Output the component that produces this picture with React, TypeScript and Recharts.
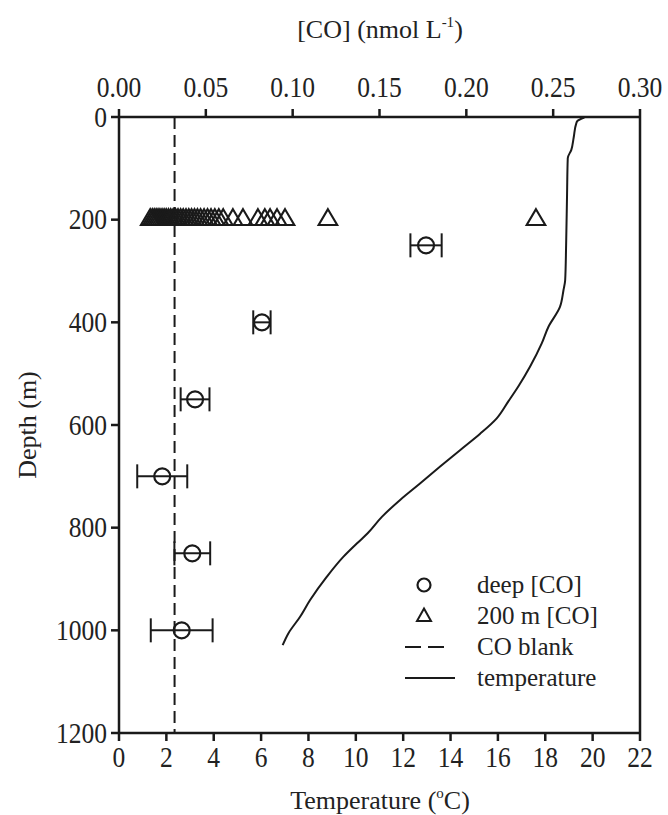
import React from "react";
import {
  ScatterChart,
  Scatter,
  XAxis,
  YAxis,
  ErrorBar,
  ReferenceLine,
  Legend,
} from "recharts";

const coTicks = [0, 0.05, 0.1, 0.15, 0.2, 0.25, 0.3];
const tempTicks = [0, 2, 4, 6, 8, 10, 12, 14, 16, 18, 20, 22];
const depthTicks = [0, 200, 400, 600, 800, 1000, 1200];

const deepDepth = [250, 400, 550, 700, 850, 1000];
const deepCO = [0.1768, 0.0823, 0.0438, 0.0249, 0.0422, 0.0361];
const deepErr = [0.009, 0.005, 0.0083, 0.0144, 0.0103, 0.0178];

const shallowDepth = 200;
const shallowCO = [
  0.018, 0.0192, 0.0203, 0.0214, 0.0225, 0.0236, 0.0248, 0.026, 0.0272,
  0.0285, 0.0298, 0.0312, 0.0326, 0.034, 0.0355, 0.037, 0.0386, 0.0402,
  0.0418, 0.0435, 0.0452, 0.047, 0.049, 0.051, 0.053, 0.0552, 0.0575, 0.06,
  0.0656, 0.0714, 0.08, 0.084, 0.087, 0.091, 0.0956, 0.1203, 0.2401,
];

const coBlank = 0.032;

const tempValues = [
  19.65, 19.35, 19.3, 19.2, 19.1, 18.95, 18.92, 18.88, 18.84, 18.77, 18.62,
  18.13, 17.85, 17.36, 16.86, 16.44, 15.95, 15.25, 14.4, 13.56, 12.71, 11.87,
  11.1, 10.5, 10.04, 9.47, 8.77, 8.07, 7.64, 7.15, 6.91,
];
const tempDepths = [
  1, 8, 14, 40, 64, 80, 150, 250, 318, 337, 370, 409, 441, 486, 525, 554, 587,
  617, 649, 681, 714, 746, 779, 811, 831, 857, 896, 941, 974, 1006, 1029,
];

const deepData = deepDepth.map((d, i) => ({ co: deepCO[i], depth: d, err: deepErr[i] }));
const shallowData = shallowCO.map((c) => ({ co: c, depth: shallowDepth }));
const tempData = tempValues.map((t, i) => ({ t, depth: tempDepths[i] }));

const INK = "#1a1a1a";
const TXT = "#222";
const FONT = "'Liberation Serif', 'Times New Roman', serif";
const TICK_FS = 29;
const TICK_SX = 0.88;

const CircleShape = (props: any) => {
  const { cx, cy } = props;
  if (cx == null || cy == null) return <g />;
  return <circle cx={cx} cy={cy} r={8} fill="none" stroke={INK} strokeWidth={2.2} />;
};

const TriangleShape = (props: any) => {
  const { cx, cy } = props;
  if (cx == null || cy == null) return <g />;
  const d = `M${cx},${cy - 10.5} L${cx + 9.3},${cy + 5.3} L${cx - 9.3},${cy + 5.3} Z`;
  return <path d={d} fill="none" stroke={INK} strokeWidth={2.1} strokeLinejoin="miter" />;
};

const NoShape = () => <g />;

const TickText = ({ x, y, anchor, label }: any) => (
  <text
    transform={`translate(${x},${y}) scale(${TICK_SX},1)`}
    textAnchor={anchor}
    fontFamily={FONT}
    fontSize={TICK_FS}
    fill={TXT}
  >
    {label}
  </text>
);

const TopTick = (props: any) => {
  const { x, y, payload } = props;
  return <TickText x={x} y={y} anchor="middle" label={Number(payload.value).toFixed(2)} />;
};

const BottomTick = (props: any) => {
  const { x, y, payload } = props;
  return <TickText x={x} y={y + 19} anchor="middle" label={String(payload.value)} />;
};

const LeftTick = (props: any) => {
  const { x, y, payload } = props;
  return <TickText x={x} y={y + 9.5} anchor="end" label={String(payload.value)} />;
};

const LegendContent = () => {
  const rows = [
    {
      label: "deep [CO]",
      icon: <circle cx={24} cy={15} r={6.5} fill="none" stroke={INK} strokeWidth={2.2} />,
    },
    {
      label: "200 m [CO]",
      icon: <path d="M24,7.5 L31,20 L17,20 Z" fill="none" stroke={INK} strokeWidth={2} />,
    },
    {
      label: "CO blank",
      icon: <line x1={5} y1={15} x2={44} y2={15} stroke={INK} strokeWidth={2} strokeDasharray="16 7" />,
    },
    {
      label: "temperature",
      icon: <line x1={5} y1={15} x2={55} y2={15} stroke={INK} strokeWidth={2} />,
    },
  ];
  return (
    <div style={{ fontFamily: FONT, fontSize: 25, color: TXT }}>
      {rows.map((r) => (
        <div key={r.label} style={{ display: "flex", alignItems: "center", height: 31 }}>
          <svg width={77} height={30} style={{ display: "block" }}>
            {r.icon}
          </svg>
          <span style={{ lineHeight: "31px", whiteSpace: "nowrap" }}>{r.label}</span>
        </div>
      ))}
    </div>
  );
};

export default function App() {
  return (
    <div style={{ position: "absolute", left: 0, top: 0, width: 668, height: 815, background: "#fff" }}>
      <ScatterChart
        width={668}
        height={815}
        margin={{ top: 0, right: 0, bottom: 0, left: 0 }}
        style={{ fontFamily: FONT }}
      >
        <XAxis
          xAxisId="co"
          dataKey="co"
          type="number"
          orientation="top"
          domain={[0, 0.3]}
          ticks={coTicks}
          height={117}
          tickSize={8}
          tickMargin={12}
          tick={<TopTick />}
          stroke={INK}
          strokeWidth={2.5}
          allowDataOverflow
          label={{
            content: () => (
              <text x={380} y={38} textAnchor="middle" fontFamily={FONT} fontSize={26} fill={TXT}>
                [CO] (nmol L
                <tspan dy={-11} fontSize={15}>-1</tspan>
                <tspan dy={11}>)</tspan>
              </text>
            ),
          }}
        />
        <XAxis
          xAxisId="t"
          dataKey="t"
          type="number"
          orientation="bottom"
          domain={[0, 22]}
          ticks={tempTicks}
          height={82}
          tickSize={8}
          tickMargin={7}
          tick={<BottomTick />}
          stroke={INK}
          strokeWidth={2.5}
          allowDataOverflow
          label={{
            content: () => (
              <text x={380} y={809} textAnchor="middle" fontFamily={FONT} fontSize={26} fill={TXT}>
                Temperature (
                <tspan dy={-11} fontSize={15}>o</tspan>
                <tspan dy={11}>C)</tspan>
              </text>
            ),
          }}
        />
        <YAxis
          yAxisId="d"
          dataKey="depth"
          type="number"
          reversed
          domain={[0, 1200]}
          ticks={depthTicks}
          width={119}
          tickSize={8}
          tickMargin={4}
          tick={<LeftTick />}
          stroke={INK}
          strokeWidth={2.5}
          allowDataOverflow
          label={{
            content: () => (
              <text
                x={27}
                y={425}
                transform="rotate(-90, 27, 425)"
                textAnchor="middle"
                dominantBaseline="central"
                fontFamily={FONT}
                fontSize={26}
                fill={TXT}
              >
                Depth (m)
              </text>
            ),
          }}
        />
        <YAxis
          yAxisId="r"
          orientation="right"
          type="number"
          domain={[0, 1200]}
          width={28}
          tick={false}
          tickLine={false}
          stroke={INK}
          strokeWidth={2.5}
        />
        <ReferenceLine
          xAxisId="co"
          yAxisId="d"
          x={coBlank}
          stroke={INK}
          strokeWidth={2}
          strokeDasharray="12 6"
        />
        <Scatter
          name="temperature"
          data={tempData}
          xAxisId="t"
          yAxisId="d"
          line={{ stroke: INK, strokeWidth: 2 }}
          lineType="joint"
          lineJointType="monotoneY"
          shape={NoShape}
          isAnimationActive={false}
        />
        <Scatter
          name="200 m [CO]"
          data={shallowData}
          xAxisId="co"
          yAxisId="d"
          shape={TriangleShape}
          isAnimationActive={false}
        />
        <Scatter
          name="deep [CO]"
          data={deepData}
          xAxisId="co"
          yAxisId="d"
          shape={CircleShape}
          isAnimationActive={false}
        >
          <ErrorBar dataKey="err" direction="x" width={12} stroke={INK} strokeWidth={2} />
        </Scatter>
        <Legend
          layout="vertical"
          align="center"
          verticalAlign="middle"
          content={<LegendContent />}
          wrapperStyle={{ position: "absolute", left: 400, top: 569, width: 240 }}
        />
      </ScatterChart>
    </div>
  );
}
